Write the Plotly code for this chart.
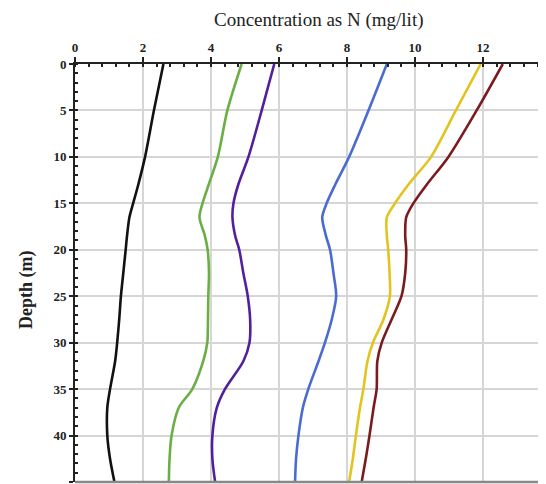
import plotly.graph_objects as go

depths = [0, 5, 10, 13, 15, 16.5, 18.5, 20, 22.5, 25, 27.5, 30, 32, 35, 37, 40, 42.5, 45]

s_black  = [2.60, 2.32, 2.06, 1.86, 1.71, 1.60, 1.53, 1.49, 1.42, 1.35, 1.30, 1.24, 1.18, 1.03, 0.95, 0.95, 1.03, 1.16]
s_green  = [4.90, 4.48, 4.20, 3.93, 3.75, 3.66, 3.82, 3.90, 3.94, 3.92, 3.91, 3.89, 3.77, 3.45, 3.05, 2.84, 2.78, 2.76]
s_purple = [5.86, 5.49, 5.10, 4.80, 4.66, 4.63, 4.71, 4.83, 4.95, 5.08, 5.15, 5.13, 4.95, 4.41, 4.17, 4.04, 4.04, 4.12]
s_blue   = [9.17, 8.63, 8.06, 7.65, 7.40, 7.27, 7.38, 7.50, 7.60, 7.68, 7.55, 7.35, 7.16, 6.86, 6.70, 6.57, 6.50, 6.47]
s_yellow = [11.93, 11.20, 10.47, 9.80, 9.41, 9.17, 9.17, 9.21, 9.25, 9.26, 9.07, 8.76, 8.60, 8.48, 8.38, 8.26, 8.17, 8.06]
s_brown  = [12.58, 11.81, 10.98, 10.34, 9.95, 9.74, 9.71, 9.74, 9.71, 9.60, 9.31, 9.02, 8.89, 8.87, 8.78, 8.66, 8.55, 8.43]

x_ticks = [0, 2, 4, 6, 8, 10, 12, 14]
y_ticks = [0, 5, 10, 15, 20, 25, 30, 35, 40, 45]

series = [
    (s_black, "#111111"),
    (s_green, "#6aae45"),
    (s_purple, "#52209c"),
    (s_blue, "#4a6bd0"),
    (s_yellow, "#e3c41f"),
    (s_brown, "#7a1c1f"),
]

fig = go.Figure()
for vals, col in series:
    fig.add_trace(go.Scatter(x=vals, y=depths, mode="lines",
                             line=dict(color=col, width=2.6, shape="spline", smoothing=0.8),
                             showlegend=False, hoverinfo="skip"))

tfont = dict(family="Liberation Serif", size=13, color="#222222", weight="bold")

fig.update_layout(
    width=538, height=476,
    margin=dict(l=67, r=0, t=56, b=2),
    paper_bgcolor="white", plot_bgcolor="white",
    xaxis=dict(side="top", range=[0, 13.85], tickvals=x_ticks, ticktext=[str(v) for v in x_ticks],
               showgrid=True, gridcolor="#d6d6d6", gridwidth=1.5,
               showline=True, linecolor="#222222", linewidth=2,
               ticks="outside", ticklen=5, tickwidth=2, tickcolor="#222222",
               tickfont=tfont, automargin=False,
               minor=dict(dtick=0.4, ticks="inside", ticklen=3, tickwidth=2, tickcolor="#222222", showgrid=False),
               zeroline=False, fixedrange=True),
    yaxis=dict(range=[45, 0], tickvals=y_ticks, ticktext=[str(v) for v in y_ticks],
               showgrid=True, gridcolor="#d6d6d6", gridwidth=1.5,
               showline=True, linecolor="#222222", linewidth=2,
               ticks="outside", ticklen=4, tickwidth=2, tickcolor="#222222",
               tickfont=tfont, automargin=False,
               minor=dict(dtick=1, ticks="inside", ticklen=3, tickwidth=1.5, tickcolor="#222222", showgrid=False),
               zeroline=False, fixedrange=True),
    shapes=[dict(type="line", xref="paper", yref="paper", x0=0, x1=1, y0=0, y1=0,
                 line=dict(color="#888888", width=2.5))],
    annotations=[
        dict(text="Concentration as N (mg/lit)", xref="paper", yref="paper",
             x=(318 - 75) / 471, y=1, yshift=44, xanchor="center", yanchor="middle", showarrow=False,
             font=dict(family="Liberation Serif", size=19, color="#222222")),
        dict(text="Depth (m)", xref="paper", yref="paper", textangle=-90,
             x=0, xshift=-49, y=(482 - 290) / 418, xanchor="center", yanchor="middle", showarrow=False,
             font=dict(family="Liberation Serif", size=18, color="#222222", weight="bold")),
    ],
)

fig.write_html("out.html")
